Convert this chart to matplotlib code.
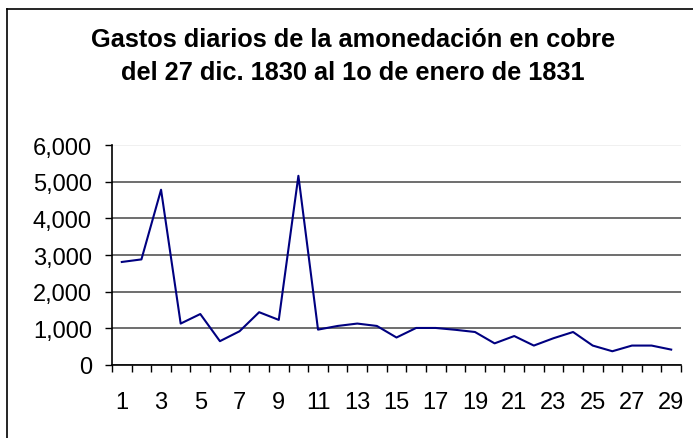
import numpy as np
import matplotlib
matplotlib.use("Agg")
import matplotlib.pyplot as plt
from matplotlib.lines import Line2D
from matplotlib.ticker import FuncFormatter

plt.rcParams['font.family'] = ['Liberation Sans', 'DejaVu Sans']

# dias 1..29 (27 dic. 1830 - 1o enero 1831)
days = list(range(1, 30))
gastos = [2810, 2880, 4780, 1130, 1390, 650, 920, 1440, 1230, 5160,
          965, 1065, 1130, 1065, 750, 1010, 1010, 960, 900, 590,
          790, 530, 730, 900, 530, 375, 530, 530, 420]
title_1 = "Gastos diarios de la amonedación en cobre"
title_2 = "del 27 dic. 1830 al 1o de enero de 1831"

fig = plt.figure(figsize=(6.93, 4.39), dpi=100)
ax = fig.add_axes([112/693, 1 - 366/439, (681 - 112)/693, (366 - 146)/439])

ax.plot(days, gastos, color="#000080", lw=1.5)

ax.set_xlim(0.5, 29.5)
ax.set_ylim(0, 6000)
ax.set_yticks(np.arange(0, 6001, 1000))
ax.yaxis.set_major_formatter(FuncFormatter(lambda v, p: "{:,}".format(int(v))))
ax.grid(axis="y", color="#555555", lw=1.2)
ax.set_axisbelow(True)
# top gridline is barely visible in the original
ax.get_ygridlines()[-1].set_color("#eeeeee")

# odd labels at category centres, tick marks on category borders
ax.set_xticks(days[::2])
ax.set_xticks(np.arange(0.5, 30, 1), minor=True)
ax.tick_params(axis="x", which="major", length=0, pad=19, labelsize=17)
ax.tick_params(axis="x", which="minor", length=5, width=1, color="black")
ax.tick_params(axis="y", length=5, width=1, pad=9.5, labelsize=17)

for s in ["top", "right"]:
    ax.spines[s].set_visible(False)
ax.spines["left"].set_linewidth(1.2)
ax.spines["bottom"].set_linewidth(1.2)

fig.text(353/693, 1 - 47/439, title_1, ha="center", va="baseline",
         fontsize=18.3, fontweight="bold")
fig.text(353/693, 1 - 80/439, title_2, ha="center", va="baseline",
         fontsize=18.3, fontweight="bold")

# chart border (left and top)
fig.add_artist(Line2D([7/693, 7/693], [0, 1 - 10/439], color="black", lw=1.2))
fig.add_artist(Line2D([7/693, 1], [1 - 10/439, 1 - 10/439], color="black", lw=1.2))

fig.savefig("out.png", dpi=100)
